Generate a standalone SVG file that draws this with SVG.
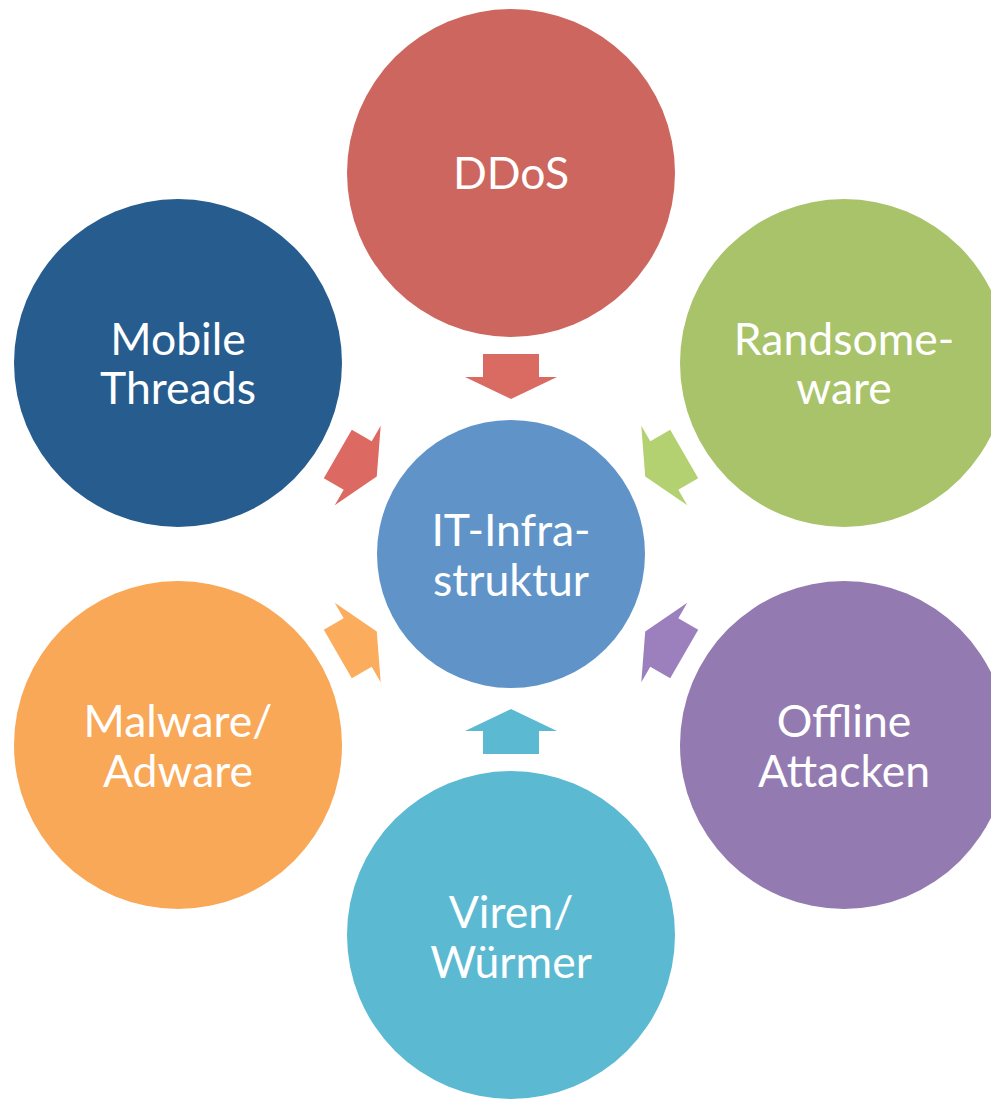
<svg xmlns="http://www.w3.org/2000/svg" width="991" height="1102" viewBox="0 0 991 1102">
<style>
  .lbl { font-family: Lato, "Open Sans", sans-serif; font-size: 44.5px; fill: #ffffff; text-anchor: middle; }
</style>
<defs>
  <path id="arr" d="M -28 -200 L 28 -200 L 28 -177 L 46 -177 L 0 -155 L -46 -177 L -28 -177 Z"/>
</defs>
<rect width="991" height="1102" fill="#ffffff"/>
<g id="connectors">
  <use href="#arr" transform="translate(511 554) rotate(0)" fill="#DA6B63"/>
  <use href="#arr" transform="translate(511 554) rotate(60)" fill="#B3D171"/>
  <use href="#arr" transform="translate(511 554) rotate(120)" fill="#9C80BE"/>
  <use href="#arr" transform="translate(511 554) rotate(180)" fill="#5BB9D2"/>
  <use href="#arr" transform="translate(511 554) rotate(240)" fill="#FBAC5C"/>
  <use href="#arr" transform="translate(511 554) rotate(300)" fill="#DC6A62"/>
</g>
<g id="center">
  <circle cx="511" cy="554" r="134" fill="#6094C9"/>
  <text class="lbl" x="511" y="546">IT-Infra-</text>
  <text class="lbl" x="511" y="596">struktur</text>
</g>
<g id="ddos">
  <circle cx="511" cy="173" r="164" fill="#CD665E"/>
  <text class="lbl" x="511" y="189">DDoS</text>
</g>
<g id="randsomeware">
  <circle cx="844" cy="363" r="164" fill="#A9C36A"/>
  <text class="lbl" x="844" y="355">Randsome-</text>
  <text class="lbl" x="844" y="404">ware</text>
</g>
<g id="offline">
  <circle cx="844" cy="745" r="164" fill="#937BB1"/>
  <text class="lbl" x="844" y="737">Offline</text>
  <text class="lbl" x="844" y="787">Attacken</text>
</g>
<g id="viren">
  <circle cx="511" cy="935" r="164" fill="#5BB9D2"/>
  <text class="lbl" x="511" y="928">Viren/</text>
  <text class="lbl" x="511" y="978">Würmer</text>
</g>
<g id="malware">
  <circle cx="178" cy="745" r="164" fill="#F9A857"/>
  <text class="lbl" x="178" y="737">Malware/</text>
  <text class="lbl" x="178" y="787">Adware</text>
</g>
<g id="mobile">
  <circle cx="178" cy="363" r="164" fill="#265C8E"/>
  <text class="lbl" x="178" y="355">Mobile</text>
  <text class="lbl" x="178" y="404">Threads</text>
</g>
</svg>
